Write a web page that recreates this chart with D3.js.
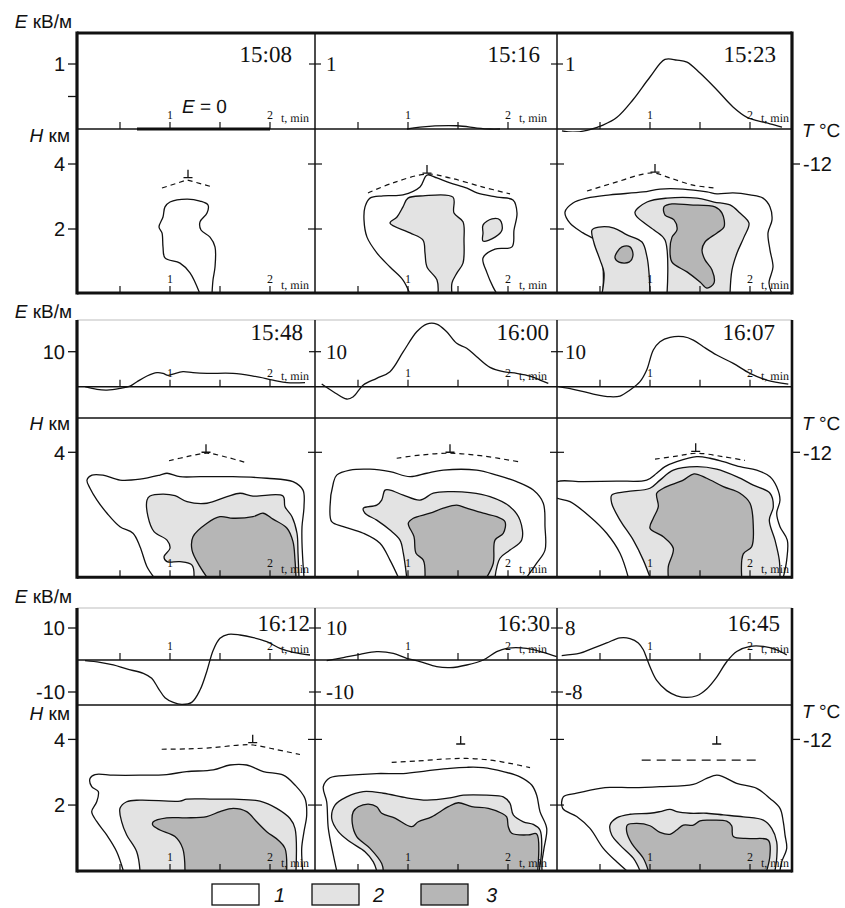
<!DOCTYPE html>
<html>
<head>
<meta charset="utf-8">
<script src="https://cdn.jsdelivr.net/npm/d3@7"></script>
<style>
  body { margin: 0; background: #fff; }
  svg { display: block; }
</style>
</head>
<body>
<svg id="chart" width="845" height="908"></svg>
<script>
// ---------------- data ----------------
const times = ["15:08", "15:16", "15:23", "15:48", "16:00", "16:07", "16:12", "16:30", "16:45"];
const tTicks = [0.5, 1, 1.5, 2];
const tLabels = [1, 2];
// reference value of E used for each panel's labelled tick (kV/m)
const eRef = [1, 1, 1, 10, 10, 10, 10, 10, 8];
const eAxisTicks = [[0.5, 1], [10], [10, -10]];
const eAxisLabels = [["", "1"], ["10"], ["10", "-10"]];
const hAxisTicks = [[2, 4], [4], [2, 4]];
const hAxisLabels = [["2", "4"], ["4"], ["2", "4"]];
const dividerTicks = [[[1], [1]], [[10], [10]], [[10, -10], [8, -8]]];
const tempLevelH = 4;
const tempLabel = "-12";
const legendLabels = ["1", "2", "3"];

// surface field E (kV/m) against t (min)
const e1508 = [[0.67, 0], [2.0, 0]];
const e1516 = [[0.99, 0], [1.12, 0.03], [1.49, 0.05], [1.69, 0.015], [1.82, 0], [1.92, 0]];
const e1523 = [[0.12, -0.03], [0.23, -0.05], [0.37, -0.02], [0.53, 0.06], [0.67, 0.18], [0.83, 0.45], [1.00, 0.80], [1.15, 1.07], [1.27, 1.06], [1.37, 1.03], [1.50, 0.86], [1.67, 0.60], [1.83, 0.34], [1.97, 0.18], [2.07, 0.13], [2.20, 0.08], [2.32, 0.03]];
const e1548 = [[0.15, 0], [0.27, -0.76], [0.37, -0.95], [0.50, -0.48], [0.60, 0.19], [0.67, 1.43], [0.77, 3.05], [0.87, 4.0], [0.93, 3.81], [0.98, 3.24], [1.03, 3.62], [1.13, 4.29], [1.23, 4.0], [1.37, 3.81], [1.63, 3.81], [1.83, 3.05], [2.03, 1.90], [2.17, 1.14], [2.35, 1.14]];
const e1600 = [[0.137, 0.76], [0.253, -1.43], [0.387, -3.52], [0.453, -2.86], [0.553, 0.48], [0.687, 2.38], [0.82, 4.29], [0.953, 10.0], [1.087, 15.7], [1.187, 17.9], [1.287, 17.9], [1.387, 15.7], [1.487, 12.4], [1.587, 11.0], [1.687, 8.57], [1.82, 5.52], [1.953, 4.29], [2.087, 3.81], [2.22, 3.05], [2.32, 1.90], [2.403, 0.95]];
const e1607 = [[0.083, 0], [0.267, -0.95], [0.433, -2.10], [0.60, -2.86], [0.70, -2.67], [0.80, -0.95], [0.90, 1.43], [0.967, 4.76], [1.033, 10.48], [1.10, 12.86], [1.20, 14.10], [1.333, 14.29], [1.433, 13.33], [1.533, 11.43], [1.667, 9.05], [1.833, 6.67], [2.00, 3.81], [2.167, 1.90], [2.383, 0.76]];
const e1612 = [[0.15, -0.21], [0.30, -0.73], [0.433, -1.56], [0.567, -2.81], [0.733, -4.17], [0.817, -5.73], [0.883, -8.85], [0.95, -11.77], [1.033, -13.23], [1.117, -13.85], [1.217, -13.23], [1.30, -9.38], [1.367, -3.65], [1.433, 3.13], [1.50, 6.77], [1.583, 8.02], [1.70, 7.81], [1.833, 6.98], [1.967, 5.73], [2.10, 3.65], [2.233, 2.40], [2.40, 1.56]];
const e1630 = [[0.187, -0.21], [0.353, 0.73], [0.52, 1.77], [0.687, 2.60], [0.853, 2.08], [0.987, 0.52], [1.12, -0.52], [1.287, -2.08], [1.42, -2.40], [1.587, -1.56], [1.753, 0], [1.887, 2.60], [1.987, 3.65], [2.187, 3.65], [2.353, 2.40], [2.487, 1.04]];
const e1645 = [[0.117, 1.11], [0.30, 1.70], [0.433, 2.98], [0.567, 4.26], [0.70, 5.53], [0.80, 5.36], [0.883, 4.26], [0.933, 2.55], [0.967, 0.43], [1.00, -1.70], [1.067, -5.11], [1.167, -7.66], [1.267, -8.94], [1.367, -9.36], [1.467, -8.94], [1.567, -7.23], [1.667, -4.26], [1.767, -0.43], [1.867, 2.13], [2.00, 3.40], [2.133, 3.40], [2.267, 2.55], [2.367, 1.28]];

// radar echo contours, [t (min), H (km)]; level a = 1, b = 2, c = 3
const c1508a = [[1.30, 0], [1.20, 0.65], [1.10, 0.95], [0.95, 1.11], [0.93, 1.45], [0.92, 1.88], [0.89, 2.06], [0.93, 2.37], [0.95, 2.68], [1.00, 2.83], [1.17, 2.92], [1.30, 2.86], [1.38, 2.74], [1.37, 2.49], [1.30, 2.22], [1.31, 1.97], [1.40, 1.75], [1.45, 1.45], [1.45, 0.83], [1.43, 0.43], [1.42, 0]];

const c1516a = [[1.02, 0], [0.95, 0.43], [0.82, 0.83], [0.69, 1.26], [0.59, 1.75], [0.56, 2.28], [0.57, 2.68], [0.62, 2.95], [0.75, 3.02], [0.95, 3.05], [1.12, 3.29], [1.19, 3.66], [1.29, 3.57], [1.42, 3.42], [1.59, 3.26], [1.69, 3.11], [1.89, 2.98], [2.05, 2.89], [2.09, 2.49], [2.06, 1.97], [2.04, 1.45], [1.87, 1.38], [1.75, 1.11], [1.79, 0.65], [1.85, 0.22], [1.89, 0]];
const c1516b = [[1.30, 0], [1.29, 0.43], [1.19, 0.83], [1.17, 1.26], [1.15, 1.66], [1.02, 1.88], [0.82, 2.18], [0.89, 2.37], [0.95, 2.68], [1.00, 2.95], [1.15, 3.02], [1.45, 2.98], [1.46, 2.49], [1.55, 2.22], [1.56, 1.66], [1.55, 0.95], [1.49, 0.65], [1.44, 0.34], [1.44, 0]];
const c1516b2 = [[1.75, 2.12], [1.84, 2.31], [1.92, 2.28], [1.94, 1.97], [1.87, 1.75], [1.75, 1.63], [1.75, 1.88]];

const c1523a = [[0.53, 0], [0.53, 0.83], [0.50, 1.26], [0.45, 1.66], [0.33, 1.88], [0.20, 2.18], [0.15, 2.52], [0.23, 2.80], [0.37, 2.95], [0.60, 3.05], [0.93, 3.14], [1.10, 3.23], [1.33, 3.23], [1.57, 3.14], [1.67, 3.08], [1.83, 3.11], [2.00, 3.05], [2.13, 2.95], [2.20, 2.68], [2.22, 2.28], [2.18, 1.88], [2.20, 1.35], [2.23, 0.83], [2.19, 0.34], [2.22, 0]];
const c1523b = [[0.52, 0], [0.54, 0.65], [0.50, 1.05], [0.44, 1.57], [0.42, 1.97], [0.49, 2.06], [0.64, 2.03], [0.77, 1.82], [0.92, 1.60], [0.97, 1.14], [0.99, 0.65], [1.00, 0]];
const c1523b2 = [[1.17, 0], [1.15, 1.66], [1.04, 1.97], [0.87, 2.37], [0.85, 2.52], [0.97, 2.83], [1.17, 2.95], [1.47, 2.95], [1.64, 2.83], [1.80, 2.74], [1.90, 2.49], [1.99, 2.18], [1.94, 1.75], [1.87, 1.26], [1.82, 0.74], [1.80, 0]];
const c1523c = [[0.67, 1.29], [0.72, 1.45], [0.80, 1.45], [0.83, 1.20], [0.79, 0.98], [0.69, 0.98], [0.65, 1.11]];
const c1523c2 = [[1.14, 2.68], [1.22, 2.77], [1.40, 2.74], [1.65, 2.68], [1.72, 2.49], [1.74, 2.06], [1.67, 1.88], [1.55, 1.60], [1.52, 1.35], [1.55, 1.05], [1.62, 0.74], [1.64, 0.34], [1.57, 0.18], [1.50, 0.37], [1.37, 0.68], [1.22, 0.98], [1.20, 1.35], [1.22, 1.75], [1.27, 1.97], [1.24, 2.28], [1.15, 2.43]];

const c1548a = [[0.84, 0], [0.77, 0.34], [0.70, 0.98], [0.63, 1.41], [0.50, 1.62], [0.37, 2.05], [0.27, 2.47], [0.20, 2.85], [0.17, 3.11], [0.22, 3.27], [0.33, 3.27], [0.50, 3.11], [0.70, 3.14], [0.90, 3.27], [0.97, 3.33], [1.10, 3.22], [1.30, 3.22], [1.63, 3.22], [1.97, 3.17], [2.23, 3.06], [2.33, 2.79], [2.34, 2.26], [2.32, 1.62], [2.32, 1.09], [2.33, 0.45], [2.34, 0]];
const c1548b = [[1.24, 0], [1.22, 0.39], [1.10, 0.50], [0.97, 0.50], [0.94, 0.66], [1.00, 0.93], [0.97, 1.19], [0.84, 1.46], [0.78, 1.94], [0.77, 2.47], [0.80, 2.60], [0.93, 2.66], [1.05, 2.61], [1.17, 2.42], [1.37, 2.37], [1.57, 2.58], [1.70, 2.69], [1.83, 2.60], [2.13, 2.60], [2.15, 2.26], [2.22, 1.94], [2.27, 1.41], [2.28, 0.77], [2.29, 0]];
const c1548c = [[1.37, 0], [1.30, 0.34], [1.22, 0.87], [1.23, 1.30], [1.37, 1.73], [1.50, 1.94], [1.63, 1.89], [1.83, 1.94], [1.93, 2.05], [2.03, 1.86], [2.17, 1.57], [2.23, 1.14], [2.25, 0.55], [2.26, 0]];

const c1600a = [[0.903, 0], [0.82, 0.55], [0.72, 1.09], [0.553, 1.41], [0.353, 1.62], [0.237, 1.78], [0.22, 2.26], [0.253, 3.01], [0.287, 3.27], [0.42, 3.43], [0.62, 3.46], [0.82, 3.38], [1.02, 3.22], [1.187, 3.33], [1.353, 3.43], [1.687, 3.43], [1.887, 3.27], [2.087, 3.06], [2.253, 2.79], [2.353, 2.37], [2.37, 1.62], [2.37, 0.87], [2.287, 0.45], [2.187, 0]];
const c1600b = [[0.987, 0], [0.953, 0.77], [0.92, 1.19], [0.82, 1.51], [0.687, 1.83], [0.57, 2.05], [0.553, 2.21], [0.687, 2.31], [0.737, 2.47], [0.77, 2.79], [0.82, 2.79], [0.953, 2.63], [1.12, 2.47], [1.253, 2.69], [1.42, 2.74], [1.62, 2.71], [1.82, 2.58], [2.02, 2.26], [2.12, 1.83], [2.137, 1.19], [2.02, 0.87], [1.92, 0.61], [1.87, 0]];
const c1600c = [[1.17, 0], [1.153, 0.55], [1.08, 0.77], [1.06, 1.30], [1.003, 1.73], [1.053, 1.89], [1.22, 2.05], [1.353, 2.21], [1.487, 2.31], [1.587, 2.21], [1.753, 2.05], [1.887, 1.94], [1.97, 1.78], [1.953, 1.41], [1.87, 1.19], [1.853, 0.45], [1.787, 0]];

const c1607a = [[0.783, 0], [0.70, 0.77], [0.567, 1.41], [0.40, 1.94], [0.20, 2.42], [0.05, 2.58], [0.05, 3.03], [0.333, 3.06], [0.667, 3.08], [0.967, 3.11], [1.067, 3.33], [1.15, 3.54], [1.267, 3.70], [1.467, 3.86], [1.60, 3.81], [1.733, 3.70], [1.90, 3.54], [2.067, 3.43], [2.20, 3.22], [2.267, 2.90], [2.30, 2.47], [2.267, 2.05], [2.30, 1.62], [2.373, 1.19], [2.367, 0.55], [2.333, 0]];
const c1607b = [[1.00, 0], [0.933, 0.55], [0.833, 1.19], [0.70, 1.83], [0.617, 2.37], [0.617, 2.63], [0.767, 2.74], [1.00, 2.85], [1.10, 3.11], [1.233, 3.43], [1.467, 3.54], [1.667, 3.46], [1.867, 3.22], [2.033, 2.95], [2.20, 2.69], [2.233, 2.26], [2.193, 1.83], [2.25, 1.19], [2.293, 0.55], [2.30, 0]];
const c1607c = [[1.183, 0], [1.183, 0.34], [1.233, 0.93], [1.133, 1.30], [1.00, 1.57], [1.033, 1.89], [1.083, 2.26], [1.067, 2.69], [1.133, 2.85], [1.333, 3.11], [1.44, 3.31], [1.567, 3.17], [1.733, 2.90], [1.90, 2.69], [2.00, 2.37], [2.033, 1.62], [2.017, 0.98], [1.933, 0.75], [1.917, 0]];

const c1612a = [[0.533, 0], [0.467, 0.58], [0.367, 1.09], [0.267, 1.50], [0.217, 1.80], [0.267, 2.10], [0.283, 2.41], [0.217, 2.56], [0.20, 2.81], [0.25, 2.93], [0.433, 2.91], [0.70, 2.91], [0.967, 2.93], [1.167, 3.02], [1.433, 3.07], [1.60, 3.22], [1.767, 3.22], [1.933, 3.02], [2.133, 2.91], [2.25, 2.61], [2.35, 2.20], [2.367, 1.70], [2.34, 1.19], [2.317, 0.68], [2.327, 0]];
const c1612b = [[0.70, 0], [0.667, 0.58], [0.567, 1.09], [0.517, 1.49], [0.50, 1.90], [0.567, 2.10], [0.70, 2.15], [1.10, 2.12], [1.167, 2.18], [1.433, 2.18], [1.633, 2.18], [1.90, 2.12], [2.067, 1.90], [2.20, 1.59], [2.25, 1.29], [2.26, 0]];
const c1612c = [[1.15, 0], [1.127, 0.68], [1.05, 1.04], [0.90, 1.24], [0.827, 1.39], [0.833, 1.49], [0.967, 1.61], [1.167, 1.61], [1.367, 1.65], [1.50, 1.80], [1.633, 1.90], [1.767, 1.80], [1.867, 1.49], [1.967, 1.19], [2.083, 0.93], [2.15, 0.68], [2.167, 0]];

const c1630a = [[0.287, 0], [0.253, 0.48], [0.203, 1.29], [0.187, 2.10], [0.153, 2.56], [0.22, 2.83], [0.42, 2.91], [0.687, 2.96], [0.953, 2.96], [1.187, 3.04], [1.42, 3.12], [1.587, 3.15], [1.753, 3.14], [1.953, 3.02], [2.12, 2.86], [2.237, 2.61], [2.287, 2.30], [2.32, 1.80], [2.387, 1.29], [2.36, 0.68], [2.34, 0.27], [2.34, 0]];
const c1630b = [[0.687, 0], [0.653, 0.27], [0.57, 0.58], [0.42, 0.88], [0.303, 1.19], [0.237, 1.59], [0.27, 2.00], [0.387, 2.25], [0.553, 2.41], [0.753, 2.36], [0.987, 2.22], [1.187, 2.15], [1.42, 2.22], [1.553, 2.30], [1.787, 2.30], [1.953, 2.25], [2.02, 2.05], [2.053, 1.70], [2.153, 1.49], [2.253, 1.41], [2.32, 1.24], [2.337, 0.68], [2.313, 0]];
const c1630c = [[0.753, 0], [0.737, 0.22], [0.62, 0.68], [0.487, 1.04], [0.443, 1.44], [0.453, 1.80], [0.503, 1.95], [0.603, 2.03], [0.687, 1.95], [0.737, 1.75], [0.87, 1.60], [1.037, 1.34], [1.103, 1.49], [1.237, 1.64], [1.403, 1.95], [1.503, 2.07], [1.637, 1.95], [1.803, 1.90], [1.937, 1.75], [1.987, 1.64], [2.003, 1.34], [2.037, 1.14], [2.203, 1.09], [2.287, 1.12], [2.297, 0]];

const c1645a = [[0.767, 0], [0.667, 0.27], [0.533, 0.68], [0.40, 1.29], [0.267, 1.65], [0.127, 1.90], [0.133, 2.25], [0.267, 2.36], [0.50, 2.51], [0.60, 2.54], [0.833, 2.53], [1.10, 2.56], [1.433, 2.63], [1.567, 2.81], [1.667, 2.91], [1.733, 2.86], [1.867, 2.66], [2.067, 2.51], [2.20, 2.20], [2.30, 1.90], [2.333, 1.49], [2.35, 1.09], [2.367, 0.68], [2.317, 0.27], [2.30, 0]];
const c1645b = [[0.90, 0], [0.833, 0.38], [0.70, 0.78], [0.617, 1.09], [0.60, 1.39], [0.667, 1.61], [0.80, 1.72], [1.00, 1.75], [1.10, 1.80], [1.20, 1.87], [1.267, 1.80], [1.40, 1.75], [1.567, 1.75], [1.733, 1.70], [1.933, 1.64], [2.133, 1.54], [2.217, 1.29], [2.267, 0.88], [2.267, 0.38], [2.25, 0]];
const c1645c = [[0.983, 0], [0.933, 0.38], [0.817, 0.83], [0.767, 1.19], [0.773, 1.39], [0.867, 1.44], [1.00, 1.37], [1.10, 1.17], [1.20, 1.11], [1.267, 1.24], [1.333, 1.39], [1.433, 1.39], [1.50, 1.52], [1.60, 1.54], [1.767, 1.51], [1.817, 1.37], [1.833, 1.04], [2.00, 0.98], [2.183, 0.93], [2.20, 0.48], [2.167, 0]];

// isotherm lines (dashed) and their top marks, [t, H]
const iso1508 = [[0.92, 3.26], [1.17, 3.51], [1.43, 3.29]];
const iso1516 = [[0.60, 3.11], [0.85, 3.42], [1.19, 3.69], [1.42, 3.57], [1.75, 3.29], [2.02, 3.08]];
const iso1523 = [[0.37, 3.17], [0.67, 3.45], [0.93, 3.69], [1.05, 3.72], [1.20, 3.57], [1.43, 3.35], [1.65, 3.26]];
const iso1548 = [[0.99, 3.73], [1.17, 3.86], [1.37, 3.97], [1.57, 3.84], [1.75, 3.68]];
const iso1600 = [[0.887, 3.81], [1.12, 3.91], [1.42, 3.97], [1.753, 3.88], [2.103, 3.70]];
const iso1607 = [[1.05, 3.78], [1.267, 3.88], [1.467, 3.97], [1.733, 3.86], [1.95, 3.74]];
const iso1612 = [[0.917, 3.70], [1.167, 3.71], [1.433, 3.75], [1.70, 3.83], [1.833, 3.83], [2.033, 3.71], [2.30, 3.54]];
const iso1630 = [[0.837, 3.30], [1.087, 3.34], [1.353, 3.40], [1.587, 3.42], [1.82, 3.37], [2.02, 3.27], [2.22, 3.14]];
const iso1645 = [[0.917, 3.37], [2.1, 3.37]];
const marks = [[1.18, 3.55], [1.19, 3.69], [1.05, 3.72], [1.36, 3.97], [1.42, 3.97], [1.457, 4.0], [1.827, 3.87], [1.527, 3.83], [1.667, 3.83]];

// ---------------- layout ----------------
const svg = d3.select("#chart");
const SERIF = "'Liberation Serif', 'Times New Roman', serif";
const SANS = "'Liberation Sans', Arial, sans-serif";
const INK = "#111";
const FILLS = ["#ffffff", "#e3e3e3", "#b6b6b6"];

const colEdges = [77, 315, 557, 792];
const colT1 = [170, 408, 650];          // x of t = 1 min in each column
const rows = [
  { top: 33,  zero: 129,   sep: 129, bottom: 293,   eY: [129, 64],     hY: [294, 164],     thinTop: false, labelY: 62,  eLabY: 28,  hLabY: 142, tLabY: 137 },
  { top: 320, zero: 386.7, sep: 418, bottom: 577.3, eY: [386.7, 351.7], hY: [577.3, 452.3], thinTop: true,  labelY: 340, eLabY: 318, hLabY: 430, tLabY: 430 },
  { top: 608, zero: 660,   sep: 705, bottom: 871,   eY: [660, 628],     hY: [870.7, 739.4], thinTop: true,  labelY: 631, eLabY: 603, hLabY: 720, tLabY: 718 }
];
const timeLabelX = [[292, 540, 776], [303, 549, 775], [310, 550, 780]];

const panels = [
  { e: e1508, c: [[c1508a], [], []], iso: iso1508 },
  { e: e1516, c: [[c1516a], [c1516b, c1516b2], []], iso: iso1516 },
  { e: e1523, c: [[c1523a], [c1523b, c1523b2], [c1523c, c1523c2]], iso: iso1523 },
  { e: e1548, c: [[c1548a], [c1548b], [c1548c]], iso: iso1548 },
  { e: e1600, c: [[c1600a], [c1600b], [c1600c]], iso: iso1600 },
  { e: e1607, c: [[c1607a], [c1607b], [c1607c]], iso: iso1607 },
  { e: e1612, c: [[c1612a], [c1612b], [c1612c]], iso: iso1612 },
  { e: e1630, c: [[c1630a], [c1630b], [c1630c]], iso: iso1630 },
  { e: e1645, c: [[c1645a], [c1645b], [c1645c]], iso: iso1645 }
];

const defs = svg.append("defs");
const plot = svg.append("g");
const frame = svg.append("g").attr("text-rendering", "geometricPrecision");

panels.forEach((p, i) => {
  const r = Math.floor(i / 3), c = i % 3;
  const R = rows[r];
  const x = d3.scaleLinear().domain([1, 2]).range([colT1[c], colT1[c] + 100]);
  const yE = d3.scaleLinear().domain([0, eRef[i]]).range(R.eY);
  const yH = d3.scaleLinear().domain([0, 4]).range(R.hY);
  const x0 = colEdges[c], x1 = colEdges[c + 1];

  defs.append("clipPath").attr("id", "ce" + i).append("rect")
    .attr("x", x0).attr("y", R.top).attr("width", x1 - x0).attr("height", R.sep - R.top + 3);
  defs.append("clipPath").attr("id", "ch" + i).append("rect")
    .attr("x", x0).attr("y", R.sep).attr("width", x1 - x0).attr("height", R.bottom - R.sep);

  // radar echo contours
  const gh = plot.append("g").attr("clip-path", `url(#ch${i})`);
  p.c.forEach((level, li) => {
    level.forEach(pts => {
      const open = pts[0][1] === 0 && pts[pts.length - 1][1] === 0;
      const gen = d3.line().x(d => x(d[0])).y(d => yH(d[1]))
        .curve(open ? d3.curveCatmullRom.alpha(0.5) : d3.curveCatmullRomClosed.alpha(0.5));
      gh.append("path").attr("d", gen(pts) + (open ? "Z" : ""))
        .attr("fill", FILLS[li]).attr("stroke", INK).attr("stroke-width", 1.3)
        .attr("stroke-linejoin", "round");
    });
  });

  // isotherm and its mark
  const isoGen = d3.line().x(d => x(d[0])).y(d => yH(d[1]))
    .curve(p.iso.length > 3 ? d3.curveCatmullRom.alpha(0.5) : d3.curveLinear);
  gh.append("path").attr("d", isoGen(p.iso)).attr("fill", "none")
    .attr("stroke", INK).attr("stroke-width", 1.2)
    .attr("stroke-dasharray", p.iso.length === 2 ? "9,6" : "5,4");
  const mx = x(marks[i][0]), my = yH(marks[i][1]) - 1;
  gh.append("path").attr("d", `M${mx - 4.5},${my}H${mx + 4.5}M${mx},${my}V${my - 8}`)
    .attr("stroke", INK).attr("stroke-width", 1.3).attr("fill", "none");

  // electric field curve
  const ge = plot.append("g").attr("clip-path", `url(#ce${i})`);
  const thick = p.e.length === 2;
  const eGen = d3.line().x(d => x(d[0])).y(d => yE(d[1]))
    .curve(thick ? d3.curveLinear : d3.curveCatmullRom.alpha(0.5));
  ge.append("path").attr("d", eGen(p.e)).attr("fill", "none")
    .attr("stroke", INK).attr("stroke-width", thick ? 3.2 : 1.3);

  // time axes: ticks on the E zero line and on the panel bottom
  [[R.zero, -10, -7], [R.bottom, -10, -4]].forEach(([ay, dl, dt]) => {
    tTicks.forEach(t => {
      frame.append("line").attr("x1", x(t)).attr("x2", x(t)).attr("y1", ay).attr("y2", ay - 7)
        .attr("stroke", INK).attr("stroke-width", 1.2);
    });
    tLabels.forEach(t => {
      frame.append("text").attr("x", x(t)).attr("y", ay + dl).attr("text-anchor", "middle")
        .attr("font-family", SERIF).attr("font-size", 12).attr("fill", INK).text(t);
    });
    frame.append("text").attr("x", x(2) + 11).attr("y", ay + dt)
      .attr("font-family", SERIF).attr("font-size", 12).attr("fill", INK).text("t, min");
  });

  // panel time stamp
  frame.append("text").attr("x", timeLabelX[r][c]).attr("y", R.labelY).attr("text-anchor", "end")
    .attr("font-family", SERIF).attr("font-size", 23).attr("fill", INK).text(times[i]);

  // tick labels on the inner column dividers
  if (c > 0) {
    dividerTicks[r][c - 1].forEach(v => {
      frame.append("line").attr("x1", x0 - 6).attr("x2", x0 + 6).attr("y1", yE(v)).attr("y2", yE(v))
        .attr("stroke", INK).attr("stroke-width", 1.2);
      frame.append("text").attr("x", x0 + (c === 1 ? 11 : 8)).attr("y", yE(v)).attr("dy", "0.35em")
        .attr("font-family", SERIF).attr("font-size", 21).attr("fill", INK).text(v);
    });
    hAxisTicks[r].forEach(h => {
      frame.append("line").attr("x1", x0 - 7).attr("x2", x0 + 7).attr("y1", yH(h)).attr("y2", yH(h))
        .attr("stroke", INK).attr("stroke-width", 1.2);
    });
  }
  if (c === 0) {
    // left-hand axes
    eAxisTicks[r].forEach((v, k) => {
      frame.append("line").attr("x1", x0 - 9).attr("x2", x0).attr("y1", yE(v)).attr("y2", yE(v))
        .attr("stroke", INK).attr("stroke-width", 1.3);
      frame.append("text").attr("x", 65).attr("y", yE(v)).attr("dy", "0.36em").attr("text-anchor", "end")
        .attr("font-family", SANS).attr("font-size", 20).attr("fill", INK).text(eAxisLabels[r][k]);
    });
    hAxisTicks[r].forEach((h, k) => {
      frame.append("line").attr("x1", x0 - 9).attr("x2", x0).attr("y1", yH(h)).attr("y2", yH(h))
        .attr("stroke", INK).attr("stroke-width", 1.3);
      frame.append("text").attr("x", 65).attr("y", yH(h)).attr("dy", "0.36em").attr("text-anchor", "end")
        .attr("font-family", SANS).attr("font-size", 20).attr("fill", INK).text(hAxisLabels[r][k]);
    });
    const el = frame.append("text").attr("x", 72).attr("y", R.eLabY).attr("text-anchor", "end")
      .attr("font-family", SANS).attr("font-size", 19).attr("fill", INK);
    el.append("tspan").attr("font-style", "italic").text("E");
    el.append("tspan").text(" кВ/м");
    const hl = frame.append("text").attr("x", 70).attr("y", R.hLabY).attr("text-anchor", "end")
      .attr("font-family", SANS).attr("font-size", 19).attr("fill", INK);
    hl.append("tspan").attr("font-style", "italic").text("H");
    hl.append("tspan").text(" км");
  }
  if (c === 2) {
    // temperature axis on the right
    frame.append("line").attr("x1", x1).attr("x2", x1 + 8).attr("y1", yH(tempLevelH)).attr("y2", yH(tempLevelH))
      .attr("stroke", INK).attr("stroke-width", 1.3);
    frame.append("text").attr("x", x1 + 11).attr("y", yH(tempLevelH)).attr("dy", "0.36em")
      .attr("font-family", SANS).attr("font-size", 20).attr("fill", INK).text(tempLabel);
    const tl = frame.append("text").attr("x", x1 + 10).attr("y", R.tLabY)
      .attr("font-family", SANS).attr("font-size", 19).attr("fill", INK);
    tl.append("tspan").attr("font-style", "italic").text("T");
    tl.append("tspan").text(" °C");
  }
  if (i === 0) {
    const z = frame.append("text").attr("x", 182).attr("y", 113)
      .attr("font-family", SANS).attr("font-size", 19).attr("fill", INK);
    z.append("tspan").attr("font-style", "italic").text("E");
    z.append("tspan").text(" = 0");
  }
});

// frames of the three rows
rows.forEach((R, r) => {
  const L = colEdges[0], Rt = colEdges[3];
  // top edge
  frame.append("line").attr("x1", L).attr("x2", Rt).attr("y1", R.top).attr("y2", R.top)
    .attr("stroke", R.thinTop ? "#bdbdbd" : INK).attr("stroke-width", R.thinTop ? 1 : 3);
  // E zero line and separator
  frame.append("line").attr("x1", L).attr("x2", Rt).attr("y1", R.zero).attr("y2", R.zero)
    .attr("stroke", INK).attr("stroke-width", 1.5);
  if (R.sep !== R.zero) {
    frame.append("line").attr("x1", L).attr("x2", Rt).attr("y1", R.sep).attr("y2", R.sep)
      .attr("stroke", INK).attr("stroke-width", 1.5);
  }
  // column dividers
  [colEdges[1], colEdges[2]].forEach(cx => {
    frame.append("line").attr("x1", cx).attr("x2", cx).attr("y1", R.top).attr("y2", R.bottom)
      .attr("stroke", INK).attr("stroke-width", 1.5);
  });
  // left, right and bottom edges
  frame.append("line").attr("x1", L).attr("x2", L).attr("y1", R.top - (R.thinTop ? 0 : 1.5)).attr("y2", R.bottom + 1.5)
    .attr("stroke", INK).attr("stroke-width", 3.2);
  frame.append("line").attr("x1", Rt).attr("x2", Rt).attr("y1", R.top - (R.thinTop ? 0 : 1.5)).attr("y2", R.bottom + 1.5)
    .attr("stroke", INK).attr("stroke-width", r === 0 ? 3.2 : 2.6);
  frame.append("line").attr("x1", L).attr("x2", Rt).attr("y1", R.bottom).attr("y2", R.bottom)
    .attr("stroke", INK).attr("stroke-width", 3);
});

// legend
const legX = [212, 312, 421], legTextX = [274, 373, 486];
legendLabels.forEach((lab, k) => {
  frame.append("rect").attr("x", legX[k]).attr("y", 884).attr("width", 47).attr("height", 21)
    .attr("fill", FILLS[k]).attr("stroke", INK).attr("stroke-width", 1.3);
  frame.append("text").attr("x", legTextX[k]).attr("y", 902).attr("font-family", SANS)
    .attr("font-style", "italic").attr("font-size", 20).attr("fill", INK).text(lab);
});
</script>
</body>
</html>
